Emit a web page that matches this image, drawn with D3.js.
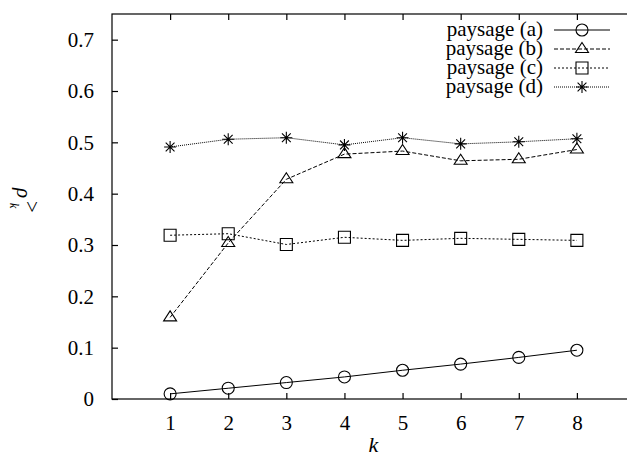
<!DOCTYPE html>
<html>
<head>
<meta charset="utf-8">
<script src="https://cdn.jsdelivr.net/npm/d3@7"></script>
<style>
  body { margin: 0; background: #fff; }
  svg text { font-family: "Liberation Serif", "DejaVu Serif", serif; fill: #000; }
</style>
</head>
<body>
<div id="chart"></div>
<script>
// Data
const ks = [1, 2, 3, 4, 5, 6, 7, 8];
const paysageA = [0.010, 0.021, 0.032, 0.043, 0.056, 0.068, 0.081, 0.095];
const paysageB = [0.159, 0.304, 0.428, 0.477, 0.483, 0.464, 0.467, 0.486];
const paysageC = [0.319, 0.322, 0.301, 0.315, 0.309, 0.313, 0.311, 0.309];
const paysageD = [0.491, 0.506, 0.509, 0.495, 0.509, 0.497, 0.501, 0.507];
const seriesNames = ["paysage (a)", "paysage (b)", "paysage (c)", "paysage (d)"];
const yTicks = [0, 0.1, 0.2, 0.3, 0.4, 0.5, 0.6, 0.7];
const xTicks = [1, 2, 3, 4, 5, 6, 7, 8];

const width = 627, height = 457;
const margin = { top: 14, left: 112, bottom: 58 };
const plotW = 523; // frame runs past the right edge of the picture
const plotH = height - margin.top - margin.bottom;

const svg = d3.select("#chart").append("svg")
    .attr("width", width)
    .attr("height", height);

const x = d3.scaleLinear().domain([0, 9]).range([margin.left, margin.left + plotW]);
const y = d3.scaleLinear().domain([0, 0.75]).range([margin.top + plotH, margin.top]);

// Frame
svg.append("rect")
    .attr("x", x(0)).attr("y", y(0.75))
    .attr("width", x(9) - x(0)).attr("height", y(0) - y(0.75))
    .attr("fill", "none").attr("stroke", "#000").attr("stroke-width", 1.2);

// Axes with inward ticks
const xAxis = svg.append("g")
    .attr("transform", `translate(0,${y(0)})`)
    .call(d3.axisBottom(x).tickValues(xTicks).tickSize(-6).tickPadding(18).tickFormat(d3.format("d")));
const xTop = svg.append("g")
    .attr("transform", `translate(0,${y(0.75)})`)
    .call(d3.axisTop(x).tickValues(xTicks).tickSize(-6).tickFormat(""));
const yAxis = svg.append("g")
    .attr("transform", `translate(${x(0)},0)`)
    .call(d3.axisLeft(y).tickValues(yTicks).tickSize(-6).tickPadding(18)
        .tickFormat(d => d === 0 ? "0" : d3.format(".1f")(d)));

[xAxis, xTop, yAxis].forEach(g => {
    g.select(".domain").remove();
    g.selectAll("line").attr("stroke", "#000").attr("stroke-width", 1.2);
    g.selectAll("text").style("font-family", '"Liberation Serif", serif').style("font-size", "21px").attr("fill", "#000");
});
xAxis.selectAll("text").attr("dy", "0.6em");

// Axis titles
svg.append("text")
    .attr("x", x(4.5)).attr("y", 452)
    .attr("text-anchor", "middle")
    .style("font-size", "22px").style("font-style", "italic")
    .text("k");

const yl = svg.append("text")
    .attr("transform", "translate(17,188) rotate(90)")
    .style("font-size", "21px");
yl.append("tspan").style("font-style", "italic").text("ρ");
yl.append("tspan").attr("x", 15).attr("dy", 7).style("font-size", "12px").style("font-style", "italic").text("k");
yl.append("tspan").attr("x", 13).attr("dy", -15).style("font-size", "21px").text(">");

// Series
const series = [
    { name: seriesNames[0], values: paysageA, dash: null, shape: "circle" },
    { name: seriesNames[1], values: paysageB, dash: "4,2", shape: "triangle" },
    { name: seriesNames[2], values: paysageC, dash: "2,2", shape: "square" },
    { name: seriesNames[3], values: paysageD, dash: "1,1", shape: "star" }
];

const line = d3.line()
    .x((d, i) => x(ks[i]))
    .y(d => y(d));

function drawMarker(g, shape) {
    const s = g.append("path")
        .attr("fill", "none").attr("stroke", "#000").attr("stroke-width", 1.1);
    if (shape === "circle") {
        s.attr("d", d3.symbol().type(d3.symbolCircle).size(Math.PI * 36)());
    } else if (shape === "triangle") {
        s.attr("d", "M0,-6.5L6.5,3.5L-6.5,3.5Z");
    } else if (shape === "square") {
        s.attr("d", "M-6,-6H6V6H-6Z");
    } else {
        s.attr("d", "M-6,0H6M0,-6V6M-4.4,-4.4L4.4,4.4M-4.4,4.4L4.4,-4.4");
    }
}

series.forEach(sr => {
    svg.append("path")
        .datum(sr.values)
        .attr("d", line)
        .attr("fill", "none")
        .attr("stroke", "#000")
        .attr("stroke-width", 1)
        .attr("stroke-dasharray", sr.dash);

    sr.values.forEach((v, i) => {
        const g = svg.append("g").attr("transform", `translate(${x(ks[i])},${y(v)})`);
        drawMarker(g, sr.shape);
    });
});

// Legend
const legend = svg.selectAll(".legend")
    .data(series)
    .enter()
    .append("g")
    .attr("class", "legend")
    .attr("transform", (d, i) => `translate(0,${30 + i * 19})`);

legend.append("text")
    .attr("x", 543).attr("y", 6)
    .attr("text-anchor", "end")
    .style("font-size", "21px")
    .text(d => d.name);

legend.append("line")
    .attr("x1", 554).attr("x2", 610)
    .attr("stroke", "#000").attr("stroke-width", 1)
    .attr("stroke-dasharray", d => d.dash);

legend.each(function (d) {
    const g = d3.select(this).append("g").attr("transform", "translate(582,0)");
    drawMarker(g, d.shape);
});
</script>
</body>
</html>
